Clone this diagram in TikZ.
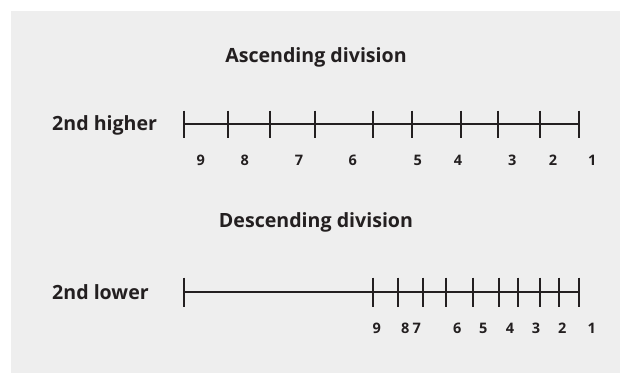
\documentclass[tikz,border=0pt]{standalone}
\usepackage{fontspec}
\setmainfont{Open Sans}
\definecolor{panel}{HTML}{EEEEEE}
\definecolor{ink}{HTML}{231F20}
\begin{document}
\begin{tikzpicture}[x=1pt,y=-1pt,
  title/.style={font=\bfseries\fontsize{19.6}{23}\selectfont, text=ink, inner sep=0pt},
  rowlabel/.style={font=\bfseries\fontsize{19.6}{23}\selectfont, text=ink, inner sep=0pt, anchor=west},
  num/.style={font=\bfseries\fontsize{14.5}{17}\selectfont, text=ink, inner sep=0pt},
  scale line/.style={draw=ink, line width=2pt},
  tickmark/.style={draw=ink, line width=2pt}]
  % page and grey panel
  \useasboundingbox (0,0) rectangle (620,373);
  \fill[white] (0,0) rectangle (620,373);
  \fill[panel] (11,11) rectangle (620,373);

  % titles
  \node[title] (asc) at (316,57) {Ascending division};
  \node[title] (desc) at (316,222) {Descending division};

  % row labels
  \node[rowlabel] (hi) at (52,125) {2nd higher};
  \node[rowlabel] (lo) at (52,292) {2nd lower};

  % ascending scale
  \coordinate (a0) at (184,124);
  \coordinate (a9) at (579.3,124);
  \draw[scale line] (a0) -- (a9);
  \foreach \x [count=\i] in {184,228.3,270.3,314.7,373.3,412.3,461.3,498,540,579.3}{
    \draw[tickmark] (\x,110.5) -- (\x,137.5);
  }
  \foreach \x/\t [count=\i] in {200.7/9,244.7/8,299/7,352.7/6,417.7/5,458/4,512.3/3,553/2,592.3/1}{
    \node[num] (an\i) at (\x,160) {\t};
  }

  % descending scale
  \coordinate (d0) at (184,291.7);
  \coordinate (d10) at (579.3,291.7);
  \draw[scale line] (d0) -- (d10);
  \foreach \x [count=\i] in {184,373.3,397.7,423,446.3,473.3,499,517.7,540,558.7,579.3}{
    \draw[tickmark] (\x,277.5) -- (\x,306.5);
  }
  \foreach \x/\t [count=\i] in {376.7/9,405.3/8,416.7/7,457.3/6,483.3/5,510/4,536/3,562.3/2,591.7/1}{
    \node[num] (dn\i) at (\x,328.3) {\t};
  }
\end{tikzpicture}
\end{document}
